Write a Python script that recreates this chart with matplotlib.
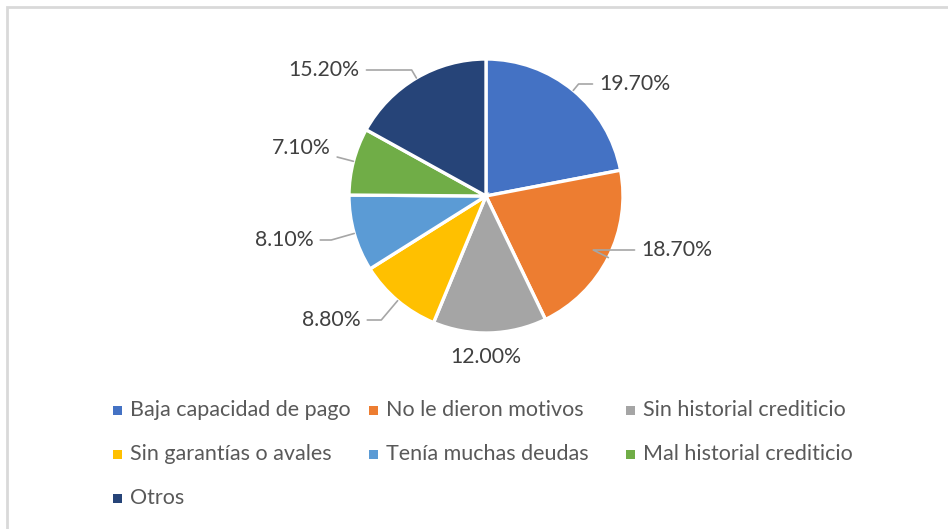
import numpy as np
import matplotlib.pyplot as plt
from matplotlib.patches import Rectangle

categories = ['Baja capacidad de pago', 'No le dieron motivos', 'Sin historial crediticio',
              'Sin garantías o avales', 'Tenía muchas deudas', 'Mal historial crediticio', 'Otros']
values = [19.7, 18.7, 12.0, 8.8, 8.1, 7.1, 15.2]
colors = ['#4472C4', '#ED7D31', '#A5A5A5', '#FFC000', '#5B9BD5', '#70AD47', '#264478']

# label positions (pixels from top-left of figure)
label_pos = [(635, 84), (677, 250), (486, 357), (331, 320), (284, 240), (301, 148), (324, 70)]

W, H = 948, 529
cx, cy, R = 486, 196, 137

plt.rcParams['font.family'] = ['Lato', 'DejaVu Sans']
fig = plt.figure(figsize=(W / 100, H / 100), dpi=100)
ax = fig.add_axes([0, 0, 1, 1])

wedges, _ = ax.pie(values, colors=colors, startangle=90, counterclock=False, radius=1,
                   wedgeprops=dict(edgecolor='white', linewidth=2.4))
ax.set_xlim(-cx / R, (W - cx) / R)
ax.set_ylim(-(H - cy) / R, cy / R)
ax.set_aspect('equal')
ax.axis('off')


def px(x, y):
    return ((x - cx) / R, (cy - y) / R)


for w, v, (lx, ly) in zip(wedges, values, label_pos):
    mid = (w.theta1 + w.theta2) / 2
    ang = np.deg2rad(mid)
    ex, ey = np.cos(ang), np.sin(ang)
    tx, ty = px(lx, ly)
    arrow = None
    if v != 12.0:
        arrow = dict(arrowstyle='-', color='#A6A6A6', lw=1.2, shrinkA=3, shrinkB=0,
                     connectionstyle=f'angle,angleA=0,angleB={mid:.1f},rad=0')
    ax.annotate(f'{v:.2f}%', xy=(ex, ey), xytext=(tx, ty), ha='center', va='center',
                fontsize=15.3, color='#404040', arrowprops=arrow)

# legend drawn manually in three columns
col_x = [118, 374, 631]
row_y = [410, 454, 498]
for i, (name, c) in enumerate(zip(categories, colors)):
    x0 = col_x[i % 3]
    y0 = row_y[i // 3]
    fig.patches.append(Rectangle(((x0 - 5) / W, 1 - (y0 + 4.5) / H), 9 / W, 9 / H,
                                 transform=fig.transFigure, facecolor=c, edgecolor='none'))
    fig.text((x0 + 12) / W, 1 - y0 / H, name, ha='left', va='center',
             fontsize=15.5, color='#595959')

fig.patches.append(Rectangle((7 / W, -0.1), 1.2, 1 - 7 / H + 0.1, transform=fig.transFigure,
                             facecolor='none', edgecolor='#D9D9D9', linewidth=2))

fig.savefig('out.png', dpi=100)
